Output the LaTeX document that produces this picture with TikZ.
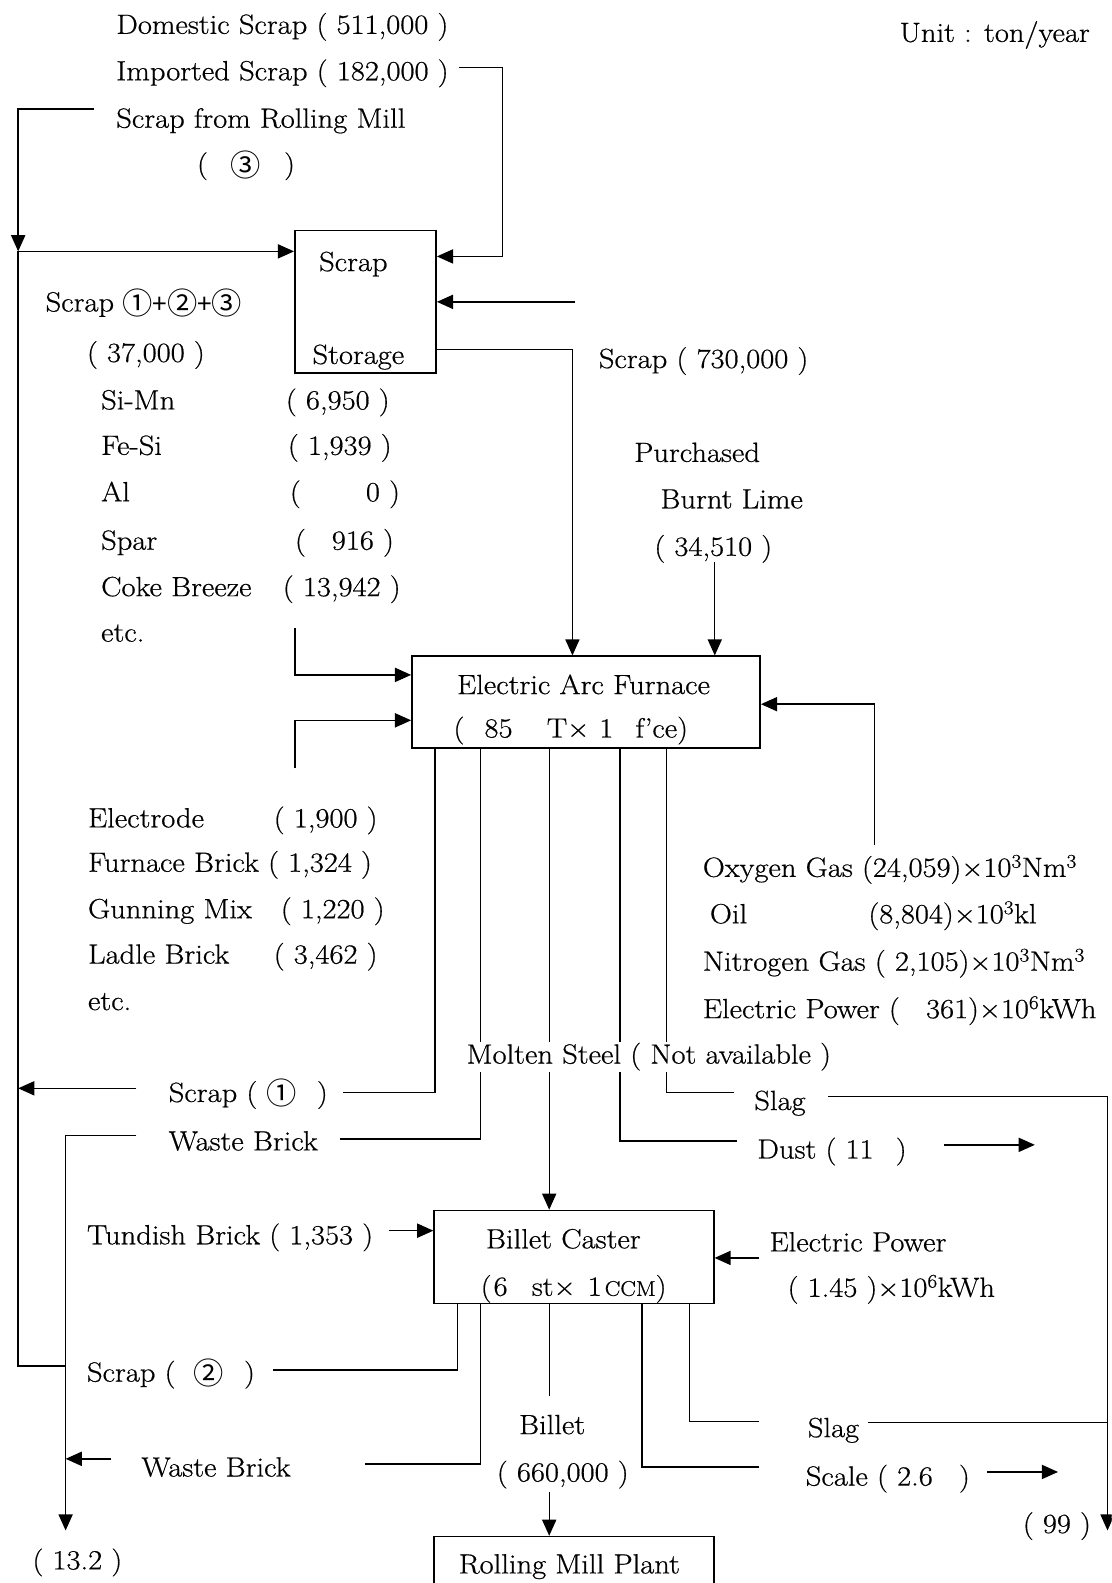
\documentclass[tikz,border=0pt]{standalone}
\usepackage{fontspec}
\setmainfont{Latin Modern Roman}[FakeStretch=1.1,FakeBold=0.6]
\newfontfamily\cjk{Noto Sans CJK JP}
\usetikzlibrary{arrows.meta}
\newcommand{\circA}{\raisebox{-3pt}{\cjk\fontsize{30}{30}\selectfont ①}}
\newcommand{\circB}{\raisebox{-3pt}{\cjk\fontsize{30}{30}\selectfont ②}}
\newcommand{\circC}{\raisebox{-3pt}{\cjk\fontsize{30}{30}\selectfont ③}}
\newcommand{\cplus}{\raisebox{-2pt}{\cjk\fontsize{26}{26}\selectfont +}}
\begin{document}
\begin{tikzpicture}[x=1pt,y=-1pt, font=\fontsize{27.5}{33}\selectfont,
  t/.style={anchor=west, inner sep=0pt, text height=18pt, text depth=5pt},
  tc/.style={anchor=center, inner sep=0pt, text height=18pt, text depth=5pt},
  box/.style={draw, line width=1.5pt, inner sep=0pt},
  ln/.style={line width=1.4pt},
  arr/.style={line width=1.4pt, -{Triangle[length=16pt,width=14pt]}}]
\clip (0,0) rectangle (1101,1568);
\fill[white] (0,0) rectangle (1101,1568);

% boxes
\node[box, minimum width=140pt, minimum height=141pt] (scrapbox) at (362,299) {};
\node[box, minimum width=345pt, minimum height=91pt] (eaf) at (580.5,695.5) {};
\node[box, minimum width=277pt, minimum height=92pt] (caster) at (568.5,1245) {};
\node[box, minimum width=277pt, minimum height=90pt] (mill) at (568.5,1567) {};

% box texts
\node[tc] (tScrap) at (350,262) {Scrap};
\node[tc] (tStorage) at (355,354) {Storage};
\node[tc] (tEAF) at (578,681) {Electric Arc Furnace};
\node[t] (tEAF2) at (449,724) {(\hspace{20pt}85\hspace{34pt}T×\hspace{10pt}1\hspace{22pt}f'ce)};
\node[tc] (tCaster) at (558,1230) {Billet Caster};
\node[t] (tCaster2) at (476,1277) {(\hspace{2pt}6\hspace{24pt}st×\hspace{12pt}1\hspace{3pt}{\fontsize{21}{21}\selectfont CCM})};
\node[tc] (tMill) at (564,1552) {Rolling Mill Plant};

% top texts
\node[t] (dom) at (115,27) {Domestic Scrap ( 511,000 )};
\node[t] (imp) at (115,73) {Imported Scrap ( 182,000 )};
\node[t] (unit) at (891,35) {Unit : ton/year};
\node[t] (srm) at (115,120) {Scrap from Rolling Mill};
\node[t] (c3) at (195,165) {\makebox[97pt]{(\hfill\circC\hfill)}};

% left block
\node[t] (s123) at (45,302) {Scrap\hspace{8pt}\circA\cplus\circB\cplus\circC};
\node[t] (s123v) at (86,352) {( 37,000 )};
\node[t] (mSiMn) at (100,399) {Si-Mn};
\node[t] (vSiMn) at (283,399) {( 6,950 )};
\node[t] (mFeSi) at (100,444) {Fe-Si};
\node[t] (vFeSi) at (285,444) {( 1,939 )};
\node[t] (mAl) at (100,490) {Al};
\node[t] (vAl) at (287,490) {\makebox[109pt]{(\hfill 0 )}};
\node[t] (mSpar) at (100,538) {Spar};
\node[t] (vSpar) at (292,538) {\makebox[98pt]{(\hfill 916 )}};
\node[t] (mCoke) at (100,584) {Coke Breeze};
\node[t] (vCoke) at (280,584) {( 13,942 )};
\node[t] (mEtc) at (100,629) {etc.};

% right of storage
\node[t] (s730) at (593,358) {Scrap ( 730,000 )};
\node[t] (lime1) at (628,451) {Purchased};
\node[t] (lime2) at (654,497) {Burnt Lime};
\node[t] (lime3) at (648,544) {( 34,510 )};

% lower left block
\node[t] (eElec) at (87,813) {Electrode};
\node[t] (vElec) at (271,813) {( 1,900 )};
\node[t] (eFurn) at (87,857) {Furnace Brick ( 1,324 )};
\node[t] (eGun) at (87,903) {Gunning Mix};
\node[t] (vGun) at (278,903) {( 1,220 )};
\node[t] (eLadle) at (87,948) {Ladle Brick};
\node[t] (vLadle) at (271,948) {( 3,462 )};
\node[t] (eEtc) at (87,994) {etc.};

% right block
\node[t] (oxy) at (696,862) {Oxygen Gas (24,059)×10\textsuperscript{3}Nm\textsuperscript{3}};
\node[t] (oil) at (703,908) {Oil};
\node[t] (oilv) at (860,908) {(8,804)×10\textsuperscript{3}kl};
\node[t] (nit) at (696,955) {Nitrogen Gas ( 2,105)×10\textsuperscript{3}Nm\textsuperscript{3}};
\node[t] (pow) at (696,1002) {Electric Power (\hspace{26pt}361)×10\textsuperscript{6}kWh};

% middle texts
\node[t] (molten) at (462,1047) {Molten Steel ( Not available )};
\node[t] (sc1) at (167,1085) {Scrap ( \circA\hspace{20pt})};
\node[t] (wb1) at (167,1133) {Waste Brick};
\node[t] (slag1) at (747,1093) {Slag};
\node[t] (dust) at (750,1141) {Dust ( 11\hspace{22pt})};
\node[t] (tund) at (86,1226) {Tundish Brick ( 1,353 )};
\node[t] (cpow) at (762,1233) {Electric Power};
\node[t] (cpowv) at (780,1278) {( 1.45 )×10\textsuperscript{6}kWh};
\node[t] (sc2) at (86,1362) {Scrap (\hspace{18pt}\circB\hspace{20pt})};
\node[t] (wb2) at (140,1456) {Waste Brick};
\node[t] (billet) at (514,1414) {Billet};
\node[t] (billetv) at (492,1461) {( 660,000 )};
\node[t] (slag2) at (800,1417) {Slag};
\node[t] (scale) at (798,1465) {Scale ( 2.6\hspace{26pt})};
\node[t] (n99) at (1013,1512) {( 99 )};
\node[t] (n132) at (32,1548) {( 13.2 )};

% ---- connectors ----
\coordinate (impA) at (455,67);
\coordinate (impB) at (498,67);
\draw[arr] (impA) -- (impB) |- ([yshift=45pt]scrapbox.east);
\coordinate (s730in) at (570,299);
\draw[arr] (s730in) -- (scrapbox.east);
\draw[arr] ([yshift=-47pt]scrapbox.east) -| ([xshift=-13.5pt]eaf.north);
\coordinate (limeA) at (708,557);
\draw[arr] (limeA) -- (limeA |- eaf.north);
\coordinate (oxyA) at (866,837);
\draw[arr] (oxyA) |- ([yshift=-2pt]eaf.east);
\coordinate (addA) at (292,622);
\draw[arr] (addA) |- ([yshift=27pt]eaf.west);
\coordinate (refA) at (292,761);
\draw[arr] (refA) |- ([yshift=-18pt]eaf.west);

% left loop
\coordinate (srmA) at (93,108);
\coordinate (L1) at (18,108);
\coordinate (L2) at (18,249);
\coordinate (L3) at (18,1353);
\coordinate (W1) at (65,1353);
\draw[arr] (srmA) -- (L1) -- (L2);
\draw[arr] (L2) -- (L2 -| scrapbox.west);
\draw[ln] (L2) -- (L3) -- (W1);

% EAF outputs
\path ([xshift=-149.5pt]eaf.south) coordinate (e1)
      ([xshift=-104.5pt]eaf.south) coordinate (e2)
      ([xshift=-36.5pt]eaf.south) coordinate (e3)
      ([xshift=33.5pt]eaf.south) coordinate (e4)
      ([xshift=79.5pt]eaf.south) coordinate (e5);
\coordinate (gapTop) at (0,1032);
\coordinate (gapBot) at (0,1062);

\coordinate (s1A) at (340,1082);
\draw[ln] (e1) |- (s1A);
\coordinate (s1B) at (135,1078);
\draw[arr] (s1B) -- (s1B -| L1);

\coordinate (w1A) at (337,1128);
\draw[ln] (e2) -- (e2 |- gapTop);
\draw[ln] (e2 |- gapBot) |- (w1A);
\coordinate (w1B) at (135,1125);
\coordinate (W2) at (65,1125);
\coordinate (W3) at (65,1516);
\draw[arr] (w1B) -- (W2) -- (W3);

\draw[ln] (e3) -- (e3 |- gapTop);
\draw[arr] (e3 |- gapBot) -- (e3 |- caster.north);

\draw[ln] (e4) -- (e4 |- gapTop);
\coordinate (dA) at (730,1130);
\draw[ln] (e4 |- gapBot) |- (dA);
\coordinate (dB) at (935,1134);
\coordinate (dC) at (1025,1134);
\draw[arr] (dB) -- (dC);

\draw[ln] (e5) -- (e5 |- gapTop);
\coordinate (sA) at (727,1082);
\draw[ln] (e5 |- gapBot) |- (sA);
\coordinate (sB) at (820,1086);
\coordinate (R1) at (1097,1086);
\coordinate (R2) at (1097,1516);
\draw[arr] (sB) -- (R1) -- (R2);

% caster
\coordinate (tA) at (385,1219);
\draw[arr] (tA) -- (tA -| caster.west);
\coordinate (cpA) at (752,1246);
\draw[arr] (cpA) -- (cpA -| caster.east);

\path ([xshift=-115.5pt]caster.south) coordinate (k1)
      ([xshift=-92.5pt]caster.south) coordinate (k2)
      ([xshift=-24.5pt]caster.south) coordinate (k3)
      ([xshift=67.5pt]caster.south) coordinate (k4)
      ([xshift=114.5pt]caster.south) coordinate (k5);
\coordinate (k1A) at (270,1357);
\draw[ln] (k1) |- (k1A);
\coordinate (k2A) at (362,1450);
\draw[ln] (k2) |- (k2A);
\coordinate (wb2A) at (110,1445);
\draw[arr] (wb2A) -- (wb2A -| W2);
\coordinate (k3A) at (544,1383);
\draw[ln] (k3) -- (k3A);
\coordinate (k3B) at (544,1478);
\draw[arr] (k3B) -- (k3B |- mill.north);
\coordinate (k4A) at (752,1453);
\draw[ln] (k4) |- (k4A);
\coordinate (k5A) at (752,1408);
\draw[ln] (k5) |- (k5A);
\coordinate (sl2) at (860,1409);
\draw[ln] (sl2) -- (sl2 -| R1);
\coordinate (scA) at (978,1458);
\coordinate (scB) at (1048,1458);
\draw[arr] (scA) -- (scB);
\end{tikzpicture}
\end{document}
